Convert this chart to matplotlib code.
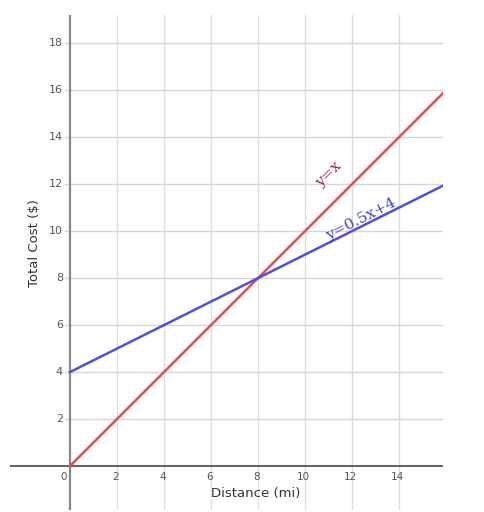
import numpy as np
import matplotlib.pyplot as plt

x_ticks = [0, 2, 4, 6, 8, 10, 12, 14]
y_ticks = [2, 4, 6, 8, 10, 12, 14, 16, 18]
x_line = [0, 16]
red_y = [0, 16]
blue_y = [4, 12]

fig = plt.figure(figsize=(4.85, 5.12), dpi=100)
ax = fig.add_axes([10 / 485, 2 / 512, 433 / 485, 495 / 512])
ax.set_xlim(-2.55, 15.87)
ax.set_ylim(-1.87, 19.2)

for v in range(2, 16, 2):
    ax.plot([v, v], [-1.87, 19.2], color="#dddddd", lw=1, zorder=0)
for v in range(2, 20, 2):
    ax.plot([-0.2, 15.87], [v, v], color="#d6d6d6", lw=1, zorder=0)

ax.axhline(0, color="#555555", lw=1.3, zorder=1)
ax.axvline(0, color="#888888", lw=1.6, zorder=1)

ax.plot(x_line, red_y, color="#e05050", lw=1.8, zorder=2)
ax.plot(x_line, blue_y, color="#5050e0", lw=1.8, zorder=2)

for t in x_ticks:
    ax.text(t + (-0.25 if t == 0 else -0.05), -0.45, str(t), ha="center",
            va="center", fontsize=7.5, color="#555555")
for t in y_ticks:
    ax.text(-0.3, t, str(t), ha="right", va="center", fontsize=8, color="#555555")

ax.text(7.9, -1.15, "Distance (mi)", ha="center", va="center", fontsize=9.5, color="#333333")
ax.text(-1.5, 9.5, "Total Cost ($)", ha="center", va="center", rotation=90,
        fontsize=9.5, color="#333333")

ax.text(11.0, 12.4, "y=x", rotation=45, ha="center", va="center", fontsize=11,
        color="#a02040", family="DejaVu Serif")
ax.text(12.4, 10.5, "y=0.5x+4", rotation=27, ha="center", va="center", fontsize=11,
        color="#4040d0", family="DejaVu Serif")

ax.axis("off")
fig.savefig("out.png", dpi=100)
